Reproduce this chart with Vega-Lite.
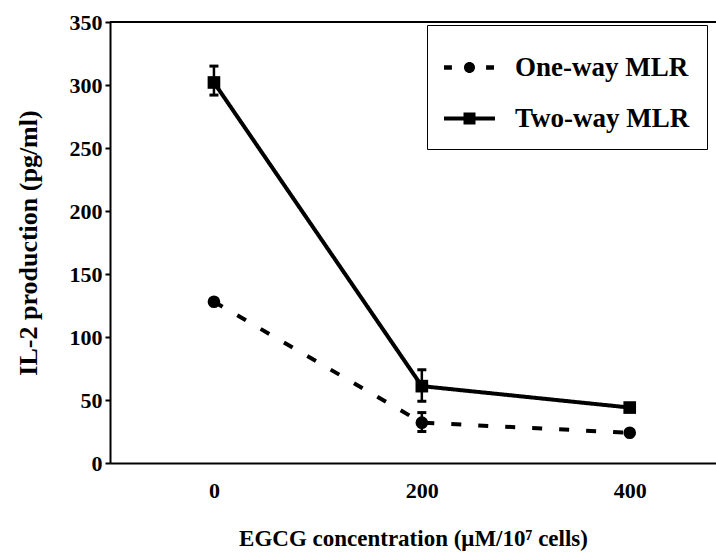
{
  "$schema": "https://vega.github.io/schema/vega-lite/v6.json",
  "autosize": "none",
  "width": 606,
  "height": 441,
  "padding": {"left": 110, "top": 22, "right": 0, "bottom": 91},
  "background": "white",
  "config": {
    "view": {"stroke": null},
    "font": "Liberation Serif"
  },
  "datasets": {
    "main": [
      {"conc": 0, "il2": 128, "lo": 127, "hi": 129, "series": "One-way MLR"},
      {"conc": 200, "il2": 32, "lo": 25, "hi": 40, "series": "One-way MLR"},
      {"conc": 400, "il2": 24, "lo": 23, "hi": 25, "series": "One-way MLR"},
      {"conc": 0, "il2": 302, "lo": 292, "hi": 315, "series": "Two-way MLR"},
      {"conc": 200, "il2": 61, "lo": 49, "hi": 74, "series": "Two-way MLR"},
      {"conc": 400, "il2": 44, "lo": 43, "hi": 45, "series": "Two-way MLR"}
    ]
  },
  "data": {"name": "main"},
  "encoding": {
    "x": {
      "field": "conc",
      "type": "quantitative",
      "scale": {"domain": [-100, 483], "nice": false, "zero": false},
      "axis": {
        "values": [0, 200, 400],
        "ticks": false,
        "grid": false,
        "domainColor": "black",
        "domainWidth": 2,
        "labelFont": "Liberation Serif",
        "labelFontWeight": "bold",
        "labelColor": "black",
        "labelFontSize": 22,
        "labelPadding": 17,
        "titleFont": "Liberation Serif",
        "titleFontWeight": "bold",
        "titleColor": "black",
        "titleFontSize": 23,
        "titlePadding": 26,
        "title": "EGCG concentration (μM/10⁷ cells)"
      }
    },
    "y": {
      "field": "il2",
      "type": "quantitative",
      "scale": {"domain": [0, 350], "nice": false},
      "axis": {
        "values": [0, 50, 100, 150, 200, 250, 300, 350],
        "grid": false,
        "domainColor": "black",
        "domainWidth": 2,
        "tickColor": "black",
        "tickWidth": 2,
        "tickSize": 5,
        "labelFont": "Liberation Serif",
        "labelFontWeight": "bold",
        "labelColor": "black",
        "labelFontSize": 22,
        "labelPadding": 3,
        "titleFont": "Liberation Serif",
        "titleFontWeight": "bold",
        "titleColor": "black",
        "titleFontSize": 26,
        "titlePadding": 28,
        "title": "IL-2 production (pg/ml)"
      }
    }
  },
  "layer": [
    {
      "mark": {"type": "rule", "color": "black", "strokeWidth": 2},
      "encoding": {"x": null, "y": {"datum": 350}}
    },
    {
      "mark": {"type": "line", "color": "black", "strokeWidth": 4},
      "encoding": {
        "detail": {"field": "series"},
        "strokeDash": {
          "field": "series",
          "type": "nominal",
          "scale": {"domain": ["One-way MLR", "Two-way MLR"], "range": [[10, 17], [1, 0]]},
          "legend": null
        }
      }
    },
    {
      "mark": {
        "type": "errorbar",
        "color": "black",
        "opacity": 1,
        "rule": {"color": "black", "opacity": 1, "strokeWidth": 2.5},
        "ticks": {"size": 9, "thickness": 3, "color": "black", "opacity": 1}
      },
      "encoding": {
        "y": {"field": "lo", "type": "quantitative"},
        "y2": {"field": "hi"},
        "detail": {"field": "series"}
      }
    },
    {
      "mark": {"type": "point", "filled": true, "color": "black", "opacity": 1, "size": 160},
      "encoding": {
        "shape": {
          "field": "series",
          "type": "nominal",
          "scale": {"domain": ["One-way MLR", "Two-way MLR"], "range": ["circle", "square"]},
          "legend": null
        }
      }
    },
    {
      "transform": [{"filter": "datum.conc < -1000"}],
      "mark": {"type": "point", "filled": true, "color": "black", "opacity": 1},
      "encoding": {
        "shape": {
          "field": "series",
          "type": "nominal",
          "scale": {
            "domain": ["One-way MLR", "Two-way MLR"],
            "range": [
              "M-1,-0.09H-0.69V0.09H-1Z M-0.216,0A0.216,0.216 0 1,0 0.216,0A0.216,0.216 0 1,0 -0.216,0Z M0.65,-0.09H0.96V0.09H0.65Z",
              "M-1,-0.08H1V0.08H-1Z M-0.235,-0.235H0.235V0.235H-0.235Z"
            ]
          },
          "legend": {
            "orient": "none",
            "legendX": 317,
            "legendY": 3,
            "title": null,
            "symbolSize": 2601,
            "symbolFillColor": "black",
            "symbolStrokeColor": "black",
            "symbolStrokeWidth": 0,
            "symbolOpacity": 1,
            "labelFont": "Liberation Serif",
            "labelFontWeight": "bold",
            "labelFontSize": 27,
            "labelColor": "black",
            "labelOffset": 20,
            "labelLimit": 0,
            "rowPadding": 12,
            "padding": 17,
            "strokeColor": "black",
            "fillColor": "white"
          }
        }
      }
    }
  ],
  "resolve": {"scale": {"shape": "independent"}, "legend": {"shape": "independent"}}
}
